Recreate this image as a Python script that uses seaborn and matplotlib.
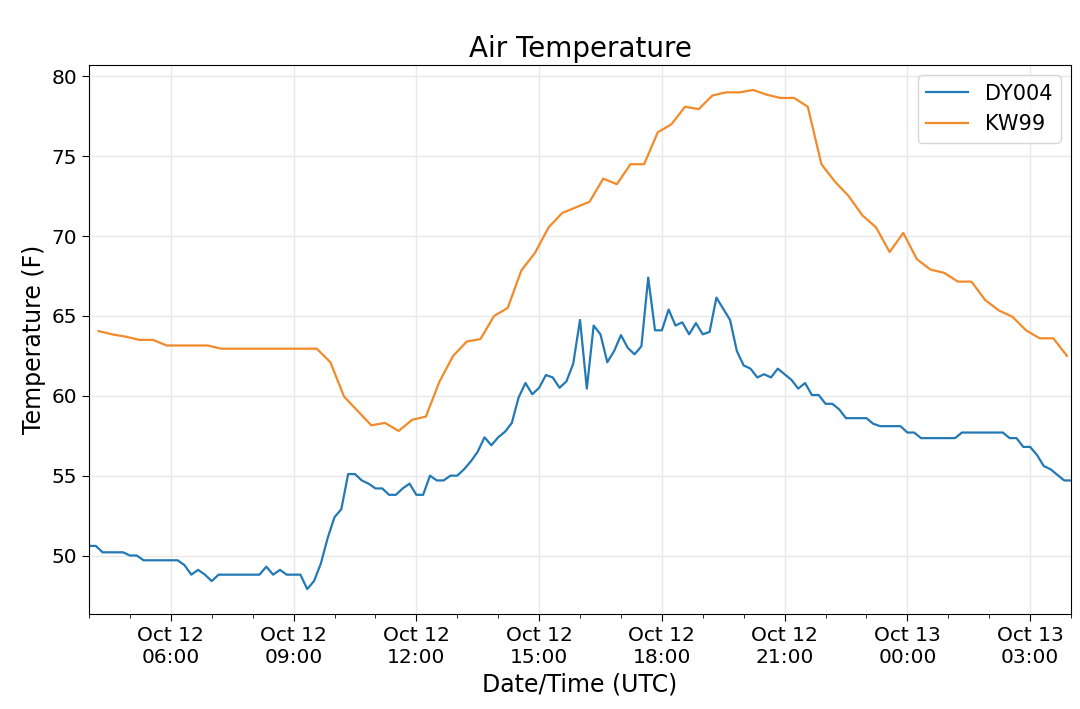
import pandas as pd
import seaborn as sns
import matplotlib.pyplot as plt
import matplotlib.dates as mdates

# DY004: 10 minute readings, Oct 12 04:00 -> Oct 13 04:00 (one row per hour)
dy004_temp = [
    50.6, 50.6, 50.2, 50.2, 50.2, 50.2,
    50.0, 50.0, 49.7, 49.7, 49.7, 49.7,
    49.7, 49.7, 49.4, 48.8, 49.1, 48.8,
    48.4, 48.8, 48.8, 48.8, 48.8, 48.8,
    48.8, 48.8, 49.3, 48.8, 49.1, 48.8,
    48.8, 48.8, 47.9, 48.4, 49.5, 51.1,
    52.4, 52.9, 55.1, 55.1, 54.7, 54.5,
    54.2, 54.2, 53.8, 53.8, 54.2, 54.5,
    53.8, 53.8, 55.0, 54.7, 54.7, 55.0,
    55.0, 55.4, 55.9, 56.5, 57.4, 56.9,
    57.4, 57.75, 58.3, 59.9, 60.8, 60.1,
    60.5, 61.3, 61.15, 60.5, 60.9, 62.0,
    64.75, 60.45, 64.4, 63.85, 62.1, 62.8,
    63.8, 63.0, 62.6, 63.1, 67.4, 64.1,
    64.1, 65.4, 64.4, 64.6, 63.85, 64.55,
    63.85, 64.0, 66.15, 65.45, 64.75, 62.8,
    61.9, 61.7, 61.15, 61.35, 61.15, 61.7,
    61.35, 61.0, 60.45, 60.8, 60.05, 60.05,
    59.5, 59.5, 59.15, 58.6, 58.6, 58.6,
    58.6, 58.25, 58.1, 58.1, 58.1, 58.1,
    57.7, 57.7, 57.35, 57.35, 57.35, 57.35,
    57.35, 57.35, 57.7, 57.7, 57.7, 57.7,
    57.7, 57.7, 57.7, 57.35, 57.35, 56.8,
    56.8, 56.3, 55.6, 55.4, 55.05, 54.7,
    54.7,
]

# KW99: 20 minute readings at :14, :34, :54 (one row per hour, 04 -> 03)
kw99_temp = [
    64.05, 63.85, 63.7,
    63.5, 63.5, 63.15,
    63.15, 63.15, 63.15,
    62.95, 62.95, 62.95,
    62.95, 62.95, 62.95,
    62.95, 62.95, 62.1,
    59.95, 59.05, 58.15,
    58.3, 57.8, 58.5,
    58.7, 60.9, 62.5,
    63.4, 63.55, 65.0,
    65.5, 67.85, 68.95,
    70.55, 71.45, 71.8,
    72.15, 73.6, 73.25,
    74.5, 74.5, 76.5,
    77.0, 78.1, 77.95,
    78.8, 79.0, 79.0,
    79.15, 78.85, 78.65,
    78.65, 78.1, 74.5,
    73.4, 72.5, 71.3,
    70.55, 69.0, 70.2,
    68.55, 67.9, 67.7,
    67.15, 67.15, 66.0,
    65.35, 64.95, 64.1,
    63.6, 63.6, 62.5,
]

dy004_time = pd.date_range('2018-10-12 04:00', periods=len(dy004_temp), freq='10min')
kw99_time = pd.date_range('2018-10-12 04:14', periods=len(kw99_temp), freq='20min')

fig = plt.figure(figsize=(10.8, 7.09), dpi=100)
ax = fig.add_axes([0.0824, 0.134, 0.9093, 0.7743])

sns.lineplot(x=dy004_time, y=dy004_temp, label='DY004', color='#2279b5', linewidth=1.6, ax=ax)
sns.lineplot(x=kw99_time, y=kw99_temp, label='KW99', color='#f28a2a', linewidth=1.6, ax=ax)

ax.set_xlim(dy004_time[0], dy004_time[-1])
ax.margins(y=0.05)

ax.xaxis.set_major_locator(mdates.HourLocator(byhour=range(0, 24, 3)))
ax.xaxis.set_minor_locator(mdates.HourLocator())
ax.xaxis.set_major_formatter(mdates.DateFormatter('%b %d\n%H:%M'))
ax.tick_params(axis='both', which='major', labelsize=14.5, length=5)
ax.tick_params(axis='x', which='minor', length=3)

ax.grid(True, which='major', color='#e8e8e8', linewidth=1)
ax.set_axisbelow(True)

ax.set_title('Air Temperature', fontsize=20)
ax.set_xlabel('Date/Time (UTC)', fontsize=17)
ax.set_ylabel('Temperature (F)', fontsize=17)
ax.legend(loc='upper right', fontsize=15)

plt.savefig('out.png', dpi=100)
